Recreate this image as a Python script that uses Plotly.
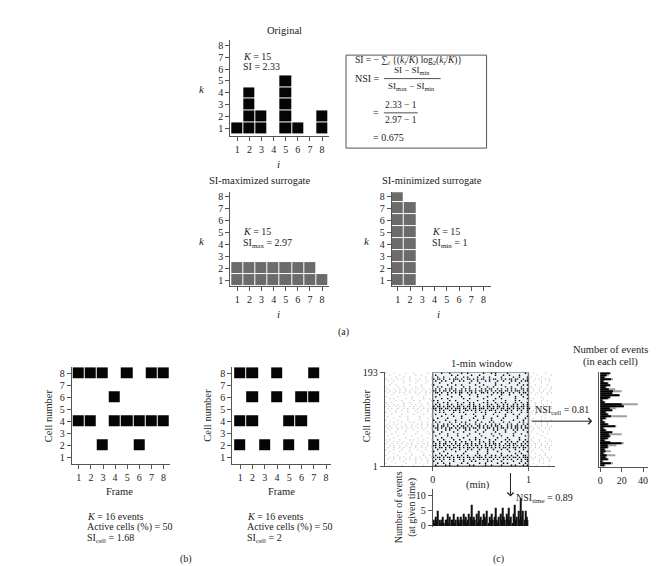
import plotly.graph_objects as go

W, H = 669, 566
FONT = "Liberation Serif"

# ---------------- data ----------------
frames = [1, 2, 3, 4, 5, 6, 7, 8]
counts_original = [1, 4, 2, 0, 5, 1, 0, 2]
counts_simax = [2, 2, 2, 2, 2, 2, 2, 1]
counts_simin = [8, 7, 0, 0, 0, 0, 0, 0]

# panel (b): frames with an event for each cell
b_left_events = {8: [1, 2, 3, 5, 7, 8], 6: [4], 4: [1, 2, 4, 5, 6, 7, 8], 2: [3, 6]}
b_right_events = {8: [1, 2, 4, 7], 6: [2, 4, 6, 7], 4: [1, 2, 5, 6], 2: [1, 3, 5, 7]}

# panel (c): raster rows (left of window | 1-min window | right of window)
raster_rows = [
    "x...x.....x...x......x..|....x...x.....x..x.......x...x.x.....x........x.|..x.....x...",
    "..x....x.......x..x.....|.x.......x..x......x...x.......x...x..x....x....|....x......x",
    ".....x...x..x.......x..x|..x..x.....x...x.x....x..x..x.....x.....x..x...x|.x....x.....",
    "x..x..x.x...x..x.x..x..x|x.xx.x..x.xxx.x..xx.x.x.xx..x.xx..x.x.xx.xx..x.x|x..x.x..x.x.",
    ".x..x....x..x...x....x..|.x..x.x...x..x.x...x..x...x.x...x..x...x.x..x.xx|..x...x...x.",
    "...x.....x.....x....x...|...x.....x........x....x.......x......x....x....|x.....x.....",
    "..x..x......x.....x....x|x......x...x..x......x...x.....x..x.......x..x.x|...x.....x..",
    "x.....x..x.....x..x.....|..x.x....x.....x..x....x...x..x.....x..x....x...|.x....x....x",
    ".x..x..x..x..x..x..x..x.|.x.x..x.xx.x..x.x.x..x..x.x.xx..x.x..x.x.x..xx.x|..x..x..x..x",
    "x.x..x.x..x.x..x..x.x..x|xx.x.xx.x.xx.xx.x.xx.x.xx.xx.x.x.xx.xx.x.xxx.x.x|x.x..x.x..x.",
    ".x..x..x.x..x..x.x..x.x.|.xx.x..x.x.x.xx..x.x.x..xx.x..x.x.xx..x.x..x.xx.|.x..x.x..x.x",
    "...x......x.....x...x...|...x...x.....x....x...x......x....x...x.....x..x|...x.....x..",
    "x.....x......x.....x....|.x.......x....x.......x....x.....x.......x...x..|x.....x.....",
    "..x.x.....x..x.....x..x.|....x..x.......x..x......x.....x..x......x.....x|..x....x....",
    ".....x..x.....x..x.....x|x.x.....x..x.....x....x....x..x.....x....x.x....|.x....x..x..",
    "x..x.....x..x....x...x..|..x..x.x....x..x..x.x....x.x...x..x.x....x..x..x|...x..x....x",
    ".x..x.x..x...x.x..x..x..|.x.x...x.x..x.x...x.x..x...x.x..x..x.x..x.x..x.x|x..x...x.x..",
    "x.x..x.x.x..x.x..x.x..x.|x.xx.x.xx.x.xx.x.xx.xx.x.x.xx.x.xx.x.x.xx.x.xx.x|.x.x..x..x.x",
    ".x.x..x..x.x..x.x..x.x.x|xx.xx.xx.x.xxx.xx.x.xx.xxx.x.xx.x.xx.xx.x.xx.x.xx|x..x.x..x..x",
    "..x..x..x..x...x..x..x..|.x.x.x..x.xx.x..xx.x.x.x..x.xx.x..x.xx.x..x.x..x.|..x..x..x...",
    "x....x.....x....x....x..|...x.x....x..x.x.....x..x.x....x.x...x.x....x..x|.x....x....x",
    "...x....x.....x....x...x|.x....x..x......x...x.....x...x.....x...x..x....|...x....x...",
    ".x.....x...x.....x.....x|....x.....x...x......x...x......x...x.....x....x|x.....x.....",
    "....x......x.....x...x..|..x....x......x.....x....x...x.....x......x...x.|..x.....x...",
    "x.....x....x.....x......|x.....x....x......x...x......x....x.....x....x..|.x....x....x",
    "..x.x...x...x.x...x..x..|.x.x....x..x..x.x....x..x...x.x....x..x....x.x..|...x..x..x..",
    ".x..x.x...x..x..x.x..x.x|..x..x.x.x...x..x.x..x.x..x..x.x.x...x.x..x..x.x|x..x..x..x..",
    "x.x..x..x.x..x.x..x..x.x|x.x.xx.x..x.x.xx.x.x..xx.x.x.x.xx.x..x.x.xx.x.x.|.x..x.x..x.x",
    ".x.x..x.x..x.x..x.x.x..x|.xx.x.x.xx.x.x.xx.x.xx.x.x.xx.x.x.xx.x.x.xx.x.xx|x.x..x..x.x.",
    "..x...x...x...x....x...x|..x...x.x...x...x.x...x...x...x.x...x...x.x..x..|..x...x...x.",
    "x....x....x.....x....x..|x...x.....x....x.....x...x.....x....x....x.....x|.x.....x....",
    "...x.....x.....x......x.|...x...x....x.....x....x.....x...x......x...x...|....x....x..",
    ".x....x......x....x.....|.x.....x....x....x......x.....x...x.....x.....x.|x.....x.....",
    "....x.....x.....x....x..|....x....x.....x.....x....x.....x....x.....x....|..x.....x...",
    "x.x....x....x.x....x...x|..x..x....x..x....x..x.x....x..x....x.x....x..x.|.x...x....x.",
    ".x..x.x..x...x..x.x..x..|x..x..x.x..x..x.x..x...x.x..x.x...x..x.x..x..x.x|..x..x..x..x",
    "x..x..x.x..x.x..x..x.x..|.x.x.xx..x.x.x..xx.x.x.x..x.x.xx.x..x.x.xx..x.x.|x..x..x..x..",
    "..x.x..x..x..x.x..x..x.x|xx.x.x.xx.x.xx.x.x.x.xx.x.x.xx.x.x.x.xx.x.x.xx.x|.x.x..x.x..x",
    ".x..x..x.x..x..x..x.x..x|.x.xx.x.x.xx.x.x.xx.x.x.x.xx.x.x.x.xx.x.xx.x.xx.|x..x.x..x.x.",
    "x...x...x...x...x...x...|..x...x..x...x...x.x...x...x..x...x..x...x...x..|..x...x...x.",
    "..x....x....x.....x....x|x....x.....x....x.....x....x....x.....x....x...x|.x.....x....",
    ".x..x.....x..x.....x....|...x...x.......x......x....x......x......x..x...|...x....x...",
    "x.....x......x.....x..x.|.x..x.x..x..x.x..x...x.x..x..x.x..x..x.x..x..xx.|x....x..x...",
    "..x.x..x.x..x..x.x..x..x|x.xx.x.xx.x.xx.x.xx.x.xxx.x.xx.x.x.xx.x.xx.x.xxx|.x.x..x..x.x",
    ".x..x..x..x.x..x..x..x..|.x.x.x..x.x..x.x..x.x..x.x.x..x.x..x.x.x..x.x.xx|..x..x.x..x.",
    "...x.....x.....x.....x..|x...x.....x....x...x.x.....x.x....x.....x...x..x|x....x....x.",
    "x....x....x....x.....x..|..x..x..x.....x..x.....x..x.....x..x.x.....x..x.|..x....x....",
    "..x.....x.....x....x....|.x....x.x...x.....x.x.....x..x....x....x.x...x.x|....x.....x.",
]

# events at given time (within the 1-min window)
events_time = [2, 1, 3, 2, 5, 2, 1, 2, 3, 1,
               2, 2, 4, 1, 3, 2, 2, 4, 1, 2,
               3, 2, 1, 3, 2, 4, 2, 3, 1, 2,
               4, 3, 7, 2, 3, 2, 4, 1, 5, 2,
               3, 2, 4, 3, 2, 5, 1, 3, 2, 4,
               2, 3, 6, 2, 1, 3, 4, 2, 6, 3,
               2, 4, 3, 6, 2, 3, 1, 4, 7, 2,
               3, 5, 2, 9, 3, 5, 2, 5, 3, 2]

# events in each cell (top of raster to bottom)
events_cell_gray = [10, 8, 5, 12, 4, 8, 10, 6, 14, 20, 12, 18, 10, 8, 3, 5, 35, 22, 15, 12,
                    6, 8, 25, 6, 3, 5, 8, 15, 4, 6, 12, 20, 10, 8, 5, 10, 22, 15, 8, 5,
                    10, 4, 14, 6, 8, 3, 12, 5]
events_cell_black = [9, 6, 4, 10, 3, 7, 9, 5, 8, 12, 11, 18, 9, 7, 2, 4, 20, 22, 9, 11,
                     5, 7, 10, 5, 2, 4, 7, 14, 3, 5, 11, 8, 9, 7, 4, 9, 20, 7, 7, 4,
                     5, 3, 6, 5, 7, 2, 10, 4]
n_cells = 193

# ---------------- helpers ----------------
def px(p):
    return p / W


def py(p):
    return 1 - p / H


def lin(p, pa, va, pb, vb):
    return va + (p - pa) * (vb - va) / (pb - pa)


axis_font = dict(family=FONT, size=10, color="#222")


def xaxis(dom, pa, va, pb, vb, anchor, tickvals=None, ticktext=None, showline=True):
    d = dict(domain=[px(dom[0]), px(dom[1])],
             range=[lin(dom[0], pa, va, pb, vb), lin(dom[1], pa, va, pb, vb)],
             anchor=anchor, showgrid=False, zeroline=False, showline=showline,
             linecolor="#555", linewidth=1.2, ticks="outside" if tickvals else "",
             ticklen=4, tickcolor="#555", tickfont=axis_font, fixedrange=True)
    if tickvals is not None:
        d["tickvals"] = tickvals
        if ticktext is not None:
            d["ticktext"] = ticktext
    else:
        d["showticklabels"] = False
    return d


def yaxis(dom, pa, va, pb, vb, anchor, tickvals=None, ticktext=None, showline=True):
    d = dict(domain=[py(dom[1]), py(dom[0])],
             range=[lin(dom[1], pa, va, pb, vb), lin(dom[0], pa, va, pb, vb)],
             anchor=anchor, showgrid=False, zeroline=False, showline=showline,
             linecolor="#555", linewidth=1.2, ticks="outside" if tickvals else "",
             ticklen=4, tickcolor="#555", tickfont=axis_font, fixedrange=True)
    if tickvals is not None:
        d["tickvals"] = tickvals
        if ticktext is not None:
            d["ticktext"] = ticktext
    else:
        d["showticklabels"] = False
    return d


def stack_matrix(counts):
    z = []
    for lev in range(1, 9):
        z.append([1 if c >= lev else None for c in counts])
    return z


def event_matrix(events):
    z = []
    for cell in range(1, 9):
        row = []
        for f in frames:
            row.append(1 if f in events.get(cell, []) else None)
        z.append(row)
    return z


fig = go.Figure()


def heat(z, color, n):
    xa = "x" if n == 1 else f"x{n}"
    ya = "y" if n == 1 else f"y{n}"
    fig.add_trace(go.Heatmap(z=z, x=frames, y=list(range(1, 9)), xgap=1, ygap=1,
                             colorscale=[[0, color], [1, color]], zmin=0, zmax=1,
                             showscale=False, hoverinfo="skip", xaxis=xa, yaxis=ya))


heat(stack_matrix(counts_original), "#050505", 1)
heat(stack_matrix(counts_simax), "#6b6b6b", 2)
heat(stack_matrix(counts_simin), "#6b6b6b", 3)
heat(event_matrix(b_left_events), "#050505", 4)
heat(event_matrix(b_right_events), "#050505", 5)

# raster
bx, by, gx, gy = [], [], [], []
nrows = len(raster_rows)
for r, row in enumerate(raster_rows):
    left, win, right = row.split("|")
    cell = n_cells - (r + 0.5) * (n_cells - 1) / nrows
    for c, ch in enumerate(left):
        if ch == "x":
            gx.append(-0.5 + (c + 0.5) / 48)
            gy.append(cell)
    for c, ch in enumerate(win):
        if ch == "x":
            bx.append((c + 0.5) / 48)
            by.append(cell)
    for c, ch in enumerate(right):
        if ch == "x":
            gx.append(1 + (c + 0.5) / 48)
            gy.append(cell)

fig.add_trace(go.Scatter(x=gx, y=gy, mode="markers", xaxis="x6", yaxis="y6",
                         marker=dict(symbol="square", size=1.2, color="#c8c8c8", line_width=0),
                         hoverinfo="skip", showlegend=False))
fig.add_trace(go.Scatter(x=bx, y=by, mode="markers", xaxis="x6", yaxis="y6",
                         marker=dict(symbol="square", size=1.4, color="#000", line_width=0),
                         hoverinfo="skip", showlegend=False))

# bottom histogram
nt = len(events_time)
fig.add_trace(go.Bar(x=[(i + 0.5) / nt for i in range(nt)], y=events_time,
                     width=0.85 / nt, marker=dict(color="#111", line_width=0),
                     xaxis="x7", yaxis="y7", hoverinfo="skip", showlegend=False))

# right histogram
nb = len(events_cell_gray)
ycent = [n_cells - (k + 0.5) * (n_cells - 1) / nb for k in range(nb)]
fig.add_trace(go.Bar(y=ycent, x=events_cell_gray, orientation="h", width=2.2,
                     marker=dict(color="#a0a0a0", line_width=0),
                     xaxis="x8", yaxis="y8", hoverinfo="skip", showlegend=False))
fig.add_trace(go.Bar(y=ycent, x=events_cell_black, orientation="h", width=2.2,
                     marker=dict(color="#000", line_width=0),
                     xaxis="x8", yaxis="y8", hoverinfo="skip", showlegend=False))

t8 = [1, 2, 3, 4, 5, 6, 7, 8]
layout = dict(
    width=W, height=H, margin=dict(l=0, r=0, t=0, b=0),
    paper_bgcolor="white", plot_bgcolor="rgba(0,0,0,0)",
    font=dict(family=FONT, size=10, color="#222"),
    showlegend=False, barmode="overlay",
    xaxis=xaxis((221, 320), 228, 1, 313, 8, "y", t8),
    yaxis=yaxis((27, 125), 117, 1, 32, 8, "x", t8),
    xaxis2=xaxis((221, 320), 228, 1, 313, 8, "y2", t8),
    yaxis2=yaxis((182, 278), 272, 1, 186, 8, "x2", t8),
    xaxis3=xaxis((383, 482), 389, 1, 475, 8, "y3", t8),
    yaxis3=yaxis((182, 278), 272, 1, 186, 8, "x3", t8),
    xaxis4=xaxis((62, 160), 69, 1, 154, 8, "y4", t8),
    yaxis4=yaxis((361, 460), 453, 1, 367, 8, "x4", t8),
    xaxis5=xaxis((223, 322), 231, 1, 317, 8, "y5", t8),
    yaxis5=yaxis((361, 460), 453, 1, 367, 8, "x5", t8),
    xaxis6=xaxis((376, 547), 424, 0, 520, 1, "y6", [0, 1], ["0", "1"]),
    yaxis6=yaxis((366, 462), 462, 1, 366, 193, "x6", [1, 193], ["1", "193"]),
    xaxis7=xaxis((424, 520), 424, 0, 520, 1, "y7", None, showline=False),
    yaxis7=yaxis((485, 524), 523, 0, 492, 10, "x7", [0, 5, 10]),
    xaxis8=xaxis((591, 640), 592, 0, 635, 40, "y8", [0, 20, 40]),
    yaxis8=yaxis((366, 463), 462, 1, 366, 193, "x8", None),
)
fig.update_layout(**layout)

# window box
fig.add_shape(type="rect", xref="x6", yref="y6", x0=0, x1=1, y0=1, y1=n_cells,
              fillcolor="#eef1f6", line=dict(color="#808080", width=1.5), layer="below")

# formula box and fraction bars
fig.add_shape(type="rect", xref="paper", yref="paper", x0=px(337), x1=px(478),
              y0=py(137), y1=py(42), line=dict(color="#555", width=1))
fig.add_shape(type="line", xref="paper", yref="paper", x0=px(375), x1=px(432),
              y0=py(66), y1=py(66), line=dict(color="#222", width=0.8))
fig.add_shape(type="line", xref="paper", yref="paper", x0=px(375), x1=px(409),
              y0=py(101), y1=py(101), line=dict(color="#222", width=0.8))


def txt(x, y, s, anchor="center", size=10, angle=0, yanchor="middle"):
    fig.add_annotation(x=px(x), y=py(y), xref="paper", yref="paper", text=s,
                       showarrow=False, xanchor=anchor, yanchor=yanchor,
                       textangle=angle, borderpad=0,
                       font=dict(family=FONT, size=size, color="#222"))


# panel (a)
txt(275, 17, "Original", size=10.5)
txt(193, 77, "<i>k</i>", size=11)
txt(269, 153, "<i>i</i>", size=11)
txt(233, 43, "<i>K</i> = 15", "left")
txt(233, 54, "SI = 2.33", "left")
txt(251, 170, "SI-maximized surrogate", size=10.5)
txt(193, 232, "<i>k</i>", size=11)
txt(269, 307, "<i>i</i>", size=11)
txt(233, 222, "<i>K</i> = 15", "left")
txt(233, 234, "SI<sub>max</sub> = 2.97", "left")
txt(423, 170, "SI-minimized surrogate", size=10.5)
txt(358, 232, "<i>k</i>", size=11)
txt(430, 307, "<i>i</i>", size=11)
txt(422, 222, "<i>K</i> = 15", "left")
txt(422, 234, "SI<sub>min</sub> = 1", "left")
txt(334, 325, "(a)")

txt(345, 48, "SI = − ∑<sub><i>i</i></sub> {(<i>k<sub>i</sub></i>/<i>K</i>) log<sub>2</sub>(<i>k<sub>i</sub></i>/<i>K</i>)}", "left", size=9.5)
txt(345, 66, "NSI =", "left")
txt(403, 64.5, "SI − SI<sub>min</sub>", size=9, yanchor="bottom")
txt(403, 67.5, "SI<sub>max</sub> − SI<sub>min</sub>", size=9, yanchor="top")
txt(363, 101, "=", "left")
txt(392, 99.5, "2.33 − 1", size=9.5, yanchor="bottom")
txt(392, 102.5, "2.97 − 1", size=9.5, yanchor="top")
txt(363, 126, "= 0.675", "left")

# panel (b)
txt(38, 410, "Cell number", angle=-90, size=10.5)
txt(198, 410, "Cell number", angle=-90, size=10.5)
txt(110, 488, "Frame", size=10.5)
txt(272, 488, "Frame", size=10.5)
txt(76, 513, "<i>K</i> = 16 events", "left")
txt(76, 524, "Active cells (%) = 50", "left")
txt(76, 536, "SI<sub>cell</sub> = 1.68", "left")
txt(237, 513, "<i>K</i> = 16 events", "left")
txt(237, 524, "Active cells (%) = 50", "left")
txt(237, 536, "SI<sub>cell</sub> = 2", "left")
txt(177, 557, "(b)")

# panel (c)
txt(473, 357, "1-min window", size=10.5)
txt(357, 410, "Cell number", angle=-90, size=10.5)
txt(397, 504, "Number of events<br>(at given time)", angle=-90, size=10)
txt(469, 481, "(min)", size=10.5)
txt(526, 405, "NSI<sub>cell</sub> = 0.81", "left", size=10)
txt(507, 495, "NSI<sub>time</sub> = 0.89", "left", size=10)
txt(602, 343, "Number of events", size=10.5)
txt(602, 356, "(in each cell)", size=10.5)
txt(490, 557, "(c)")

# arrows
fig.add_annotation(x=px(584), y=py(416), xref="paper", yref="paper", text="",
                   showarrow=True, ax=-62, ay=0, arrowhead=4, arrowsize=1.2,
                   arrowwidth=1, arrowcolor="#222")
fig.add_annotation(x=px(502), y=py(493), xref="paper", yref="paper", text="",
                   showarrow=True, ax=0, ay=-25, arrowhead=4, arrowsize=1.2,
                   arrowwidth=1, arrowcolor="#222")

fig.write_html("out.html")
